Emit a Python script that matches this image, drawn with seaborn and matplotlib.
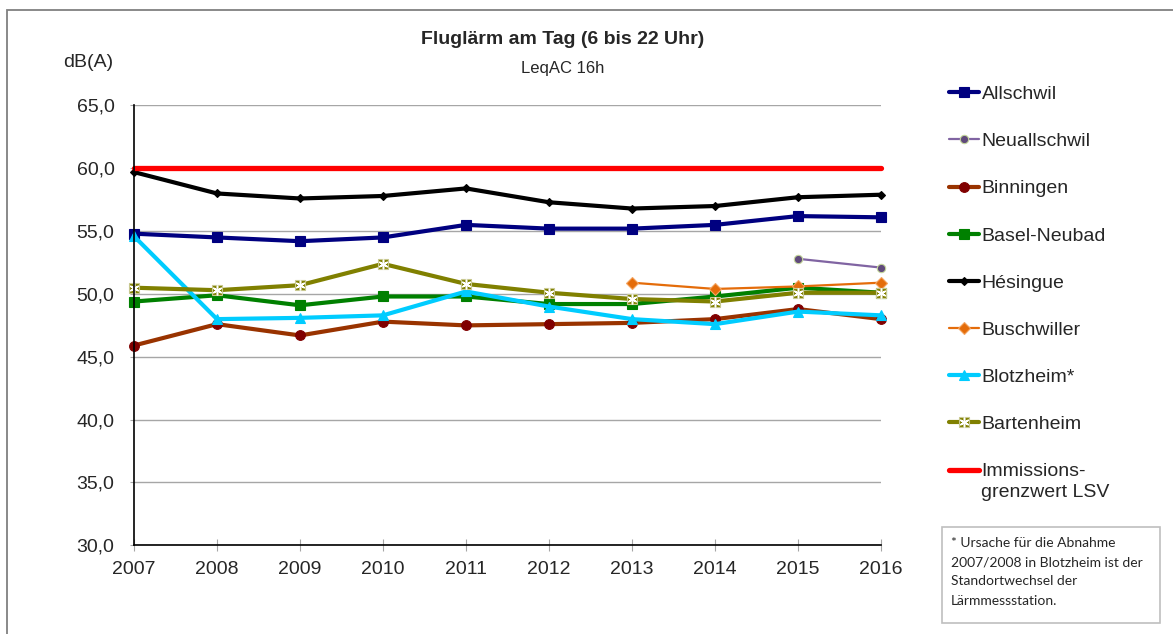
import matplotlib
matplotlib.use("Agg")
import matplotlib.pyplot as plt
import seaborn as sns
from matplotlib.patches import Rectangle
from matplotlib.legend_handler import HandlerTuple
from matplotlib.ticker import FuncFormatter

# Jahreswerte Fluglärm Tag (dB(A), LeqAC 16h)
jahre = [2007, 2008, 2009, 2010, 2011, 2012, 2013, 2014, 2015, 2016]
allschwil = [54.8, 54.5, 54.2, 54.5, 55.5, 55.2, 55.2, 55.5, 56.2, 56.1]
neuallschwil_jahre = [2015, 2016]
neuallschwil = [52.8, 52.1]
binningen = [45.9, 47.6, 46.7, 47.8, 47.5, 47.6, 47.7, 48.0, 48.8, 48.0]
basel_neubad = [49.4, 49.9, 49.1, 49.8, 49.8, 49.2, 49.2, 49.8, 50.5, 50.1]
hesingue = [59.7, 58.0, 57.6, 57.8, 58.4, 57.3, 56.8, 57.0, 57.7, 57.9]
buschwiller_jahre = [2013, 2014, 2015, 2016]
buschwiller = [50.9, 50.4, 50.6, 50.9]
blotzheim = [54.6, 48.0, 48.1, 48.3, 50.2, 49.0, 48.0, 47.6, 48.6, 48.3]
bartenheim = [50.5, 50.3, 50.7, 52.4, 50.8, 50.1, 49.6, 49.4, 50.1, 50.1]
grenzwert_lsv = [60.0, 60.0, 60.0, 60.0, 60.0, 60.0, 60.0, 60.0, 60.0, 60.0]

y_ticks = [30, 35, 40, 45, 50, 55, 60, 65]

sns.set_style("white")
plt.rcParams['font.family'] = ['Liberation Sans', 'DejaVu Sans']

fig = plt.figure(figsize=(11.73, 6.34), dpi=100)
ax = fig.add_axes([0.1142, 0.1399, 0.6369, 0.6937])

# Rahmen um das ganze Diagramm (rechts/unten abgeschnitten)
fig.patches.append(Rectangle((7 / 1173, -0.05), 1.1, 1 - 10 / 634 + 0.05,
                             transform=fig.transFigure, fill=False,
                             edgecolor='#808080', lw=1.3))

def linie(x, y, farbe, lw, marker, ms, mfc, mec, label, mew=0.8):
    sns.lineplot(x=x, y=y, ax=ax, color=farbe, lw=lw, marker=marker, ms=ms,
                 mfc=mfc, mec=mec, mew=mew, label=label, clip_on=False, legend=False)
    return ax.lines[-1]

h_all = linie(jahre, allschwil, '#000080', 3, 's', 7, '#000080', '#000080', 'Allschwil')
h_neu = linie(neuallschwil_jahre, neuallschwil, '#8064A2', 1.6, 'o', 6, '#604A7B', '#C3D69B', 'Neuallschwil')
h_bin = linie(jahre, binningen, '#993300', 3, 'o', 7, '#800000', '#800000', 'Binningen')
h_bas = linie(jahre, basel_neubad, '#008000', 3, 's', 6.5, '#008000', '#008000', 'Basel-Neubad')
h_hes = linie(jahre, hesingue, '#000000', 3, 'D', 4.5, '#000000', '#000000', 'Hésingue')
h_bus = linie(buschwiller_jahre, buschwiller, '#E46C0A', 1.6, 'D', 6.5, '#E46C0A', '#F4A460', 'Buschwiller')
h_blo = linie(jahre, blotzheim, '#00CCFF', 3, '^', 7, '#00CCFF', '#00CCFF', 'Blotzheim*')
h_bar = linie(jahre, bartenheim, '#808000', 3, 's', 7.5, '#808000', '#C8C890', 'Bartenheim')
h_bar_stern = linie(jahre, bartenheim, '#808000', 0, (6, 2, 0), 7, 'white', 'white', '_stern', mew=1.1)
h_lsv = linie(jahre, grenzwert_lsv, '#FF0000', 3.8, None, 0, 'none', 'none', 'Immissions-\ngrenzwert LSV')

ax.set_xlim(2007, 2016)
ax.set_ylim(30, 65)
ax.set_xticks(jahre)
ax.set_yticks(y_ticks)
ax.yaxis.set_major_formatter(FuncFormatter(lambda v, p: f"{v:.1f}".replace('.', ',')))
ax.grid(axis='y', color='#A6A6A6', lw=1)
ax.set_axisbelow(True)
ax.set_xlabel('')
ax.set_ylabel('')
for s in ['top', 'right']:
    ax.spines[s].set_visible(False)
for s in ['left', 'bottom']:
    ax.spines[s].set_color('black')
    ax.spines[s].set_linewidth(1.2)
ax.tick_params(axis='x', direction='inout', length=8.5, width=0.8, color='#A6A6A6',
               labelsize=14, pad=7, bottom=True)
ax.tick_params(axis='y', direction='out', length=3, width=0.8, color='#A6A6A6',
               labelsize=14, pad=11, left=True)

fig.text(0.4795, 1 - 43.5 / 634, 'Fluglärm am Tag (6 bis 22 Uhr)', ha='center',
         va='baseline', fontsize=14, fontweight='bold')
fig.text(0.4795, 1 - 72.7 / 634, 'LeqAC 16h', ha='center', va='baseline', fontsize=12)
fig.text(88 / 1173, 1 - 66.7 / 634, 'dB(A)', ha='center', va='baseline', fontsize=14)

handles = [h_all, h_neu, h_bin, h_bas, h_hes, h_bus, h_blo, (h_bar, h_bar_stern), h_lsv]
labels = ['Allschwil', 'Neuallschwil', 'Binningen', 'Basel-Neubad', 'Hésingue',
          'Buschwiller', 'Blotzheim*', 'Bartenheim', 'Immissions-\ngrenzwert LSV']
leg = ax.legend(handles, labels, loc='upper left', bbox_to_anchor=(949 / 1173, 1 - 85.5 / 634),
                bbox_transform=fig.transFigure, frameon=False, fontsize=14, borderpad=0,
                borderaxespad=0, handlelength=1.55, handletextpad=0.12, labelspacing=1.52,
                handler_map={tuple: HandlerTuple(ndivide=1)})
leg.get_texts()[-1].set_linespacing(1.35)
# Grenzwert-Linie auf Höhe der ersten Textzeile
lsv_handle = leg.legend_handles[-1]
lsv_handle.set_ydata([v + 8.5 for v in lsv_handle.get_ydata()])

# Hinweis-Box
fig.patches.append(Rectangle((942 / 1173, 1 - 623.3 / 634), 218 / 1173, 96 / 634,
                             transform=fig.transFigure, fill=False,
                             edgecolor='#BFBFBF', lw=1.2))
fig.text(951 / 1173, 1 - 537 / 634,
         '* Ursache für die Abnahme\n2007/2008 in Blotzheim ist der\nStandortwechsel der\nLärmmessstation.',
         ha='left', va='top', fontsize=10, family=['Lato', 'DejaVu Sans'], linespacing=1.72)

fig.savefig('out.png', dpi=100)
